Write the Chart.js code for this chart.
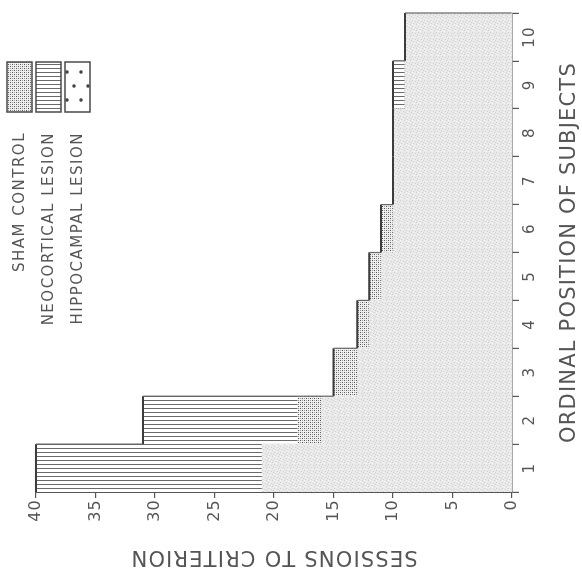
<!DOCTYPE html>
<html>
<head>
<meta charset="utf-8">
<title>Sessions to criterion</title>
<script src="https://cdn.jsdelivr.net/npm/chart.js@4.4.1/dist/chart.umd.min.js"></script>
<style>
  html, body { margin: 0; padding: 0; background: #fff; overflow: hidden; }
  /* the figure is printed turned a quarter turn, so the whole chart is rotated */
  #wrap {
    position: absolute; left: 0; top: 0;
    width: 569px; height: 582px;
    transform-origin: 0 0;
    transform: translate(0, 569px) rotate(-90deg);
  }
</style>
</head>
<body>
<div id="wrap"><canvas id="sessionsChart" width="569" height="582"></canvas></div>
<script>
// --- data ---
const positions = ['1', '2', '3', '4', '5', '6', '7', '8', '9', '10'];
const shamControl = [20, 18, 15, 13, 12, 11, 10, 10, 9, 9];
const neocorticalLesion = [40, 31, 12, 11, 10, 10, 9, 9, 10, 8];
const hippocampalLesion = [21, 16, 13, 12, 11, 10, 10, 10, 9, 9];
const groupLabels = ['SHAM CONTROL', 'NEOCORTICAL LESION', 'HIPPOCAMPAL LESION'];

const FONT = '"DejaVu Sans", sans-serif';
const INK = '#555';

const canvas = document.getElementById('sessionsChart');
const ctx = canvas.getContext('2d');

// small tiles used as fills
function tile(w, h, paint) {
    const c = document.createElement('canvas');
    c.width = w; c.height = h;
    paint(c.getContext('2d'));
    return ctx.createPattern(c, 'repeat');
}

const linesFill = tile(4, 4, g => {
    g.fillStyle = '#fff'; g.fillRect(0, 0, 4, 4);
    g.fillStyle = '#6a6a6a'; g.fillRect(0, 0, 1, 4);
});
const stippleFill = tile(4, 4, g => {
    g.fillStyle = '#f0f0f0'; g.fillRect(0, 0, 4, 4);
    g.fillStyle = '#555'; g.fillRect(0, 0, 1, 1); g.fillRect(2, 2, 1, 1);
    g.fillStyle = '#9a9a9a'; g.fillRect(2, 0, 1, 1); g.fillRect(0, 2, 1, 1);
});
const greyFill = tile(6, 6, g => {
    g.fillStyle = '#e9e9e9'; g.fillRect(0, 0, 6, 6);
    g.fillStyle = '#d0d0d0';
    [[1, 1], [4, 2], [2, 4], [5, 5], [0, 3]].forEach(p => g.fillRect(p[0], p[1], 1, 1));
    g.fillStyle = '#f5f5f5';
    [[3, 0], [0, 5], [4, 4]].forEach(p => g.fillRect(p[0], p[1], 1, 1));
});
const sparseDotsFill = tile(28, 14, g => {
    g.fillStyle = '#fff'; g.fillRect(0, 0, 28, 14);
    g.fillStyle = '#444';
    g.beginPath(); g.arc(7, 4, 1.8, 0, Math.PI * 2); g.fill();
    g.beginPath(); g.arc(21, 11, 1.8, 0, Math.PI * 2); g.fill();
});
const legendFills = [stippleFill, linesFill, sparseDotsFill];

// outline of the tallest bar in every position (top edge + the steps)
const stepOutline = {
    id: 'stepOutline',
    afterDatasetsDraw(chart) {
        const sets = chart.data.datasets;
        const tops = positions.map((p, i) => {
            let k = 0;
            sets.forEach((d, j) => { if (d.data[i] > sets[k].data[i]) k = j; });
            const bar = chart.getDatasetMeta(k).data[i];
            return { l: bar.x - bar.width / 2, r: bar.x + bar.width / 2, y: bar.y, base: bar.base };
        });
        const c = chart.ctx;
        c.save();
        c.strokeStyle = '#3c3c3c';
        c.lineWidth = 2;
        tops.forEach(t => {
            c.beginPath(); c.moveTo(t.l, t.y); c.lineTo(t.r, t.y); c.stroke();
        });
        c.lineWidth = 1.2;
        c.strokeStyle = '#666';
        for (let i = 0; i < tops.length - 1; i++) {
            c.beginPath(); c.moveTo(tops[i].r, tops[i].y); c.lineTo(tops[i].r, tops[i + 1].y); c.stroke();
        }
        const last = tops[tops.length - 1];
        c.beginPath(); c.moveTo(last.r, last.base); c.lineTo(last.r, last.y); c.stroke();
        c.restore();
    }
};

// legend: label on the left, swatch on the right, one row per group
const boxLegend = {
    id: 'boxLegend',
    afterDraw(chart) {
        const c = chart.ctx;
        c.save();
        c.letterSpacing = '1.5px';
        c.font = '15px ' + FONT;
        c.textAlign = 'right';
        c.textBaseline = 'middle';
        groupLabels.forEach((label, i) => {
            const top = 7 + i * 29;
            c.fillStyle = legendFills[i];
            c.fillRect(457, top, 50, 25);
            c.strokeStyle = '#4a4a4a';
            c.lineWidth = 1.5;
            c.strokeRect(457, top, 50, 25);
            c.fillStyle = INK;
            c.fillText(label, 437, top + 13);
        });
        c.restore();
    }
};

// spaced capitals for the axis lettering
const spacedText = {
    id: 'spacedText',
    beforeDraw(chart) { chart.ctx.letterSpacing = '1.2px'; },
    afterDraw(chart) { chart.ctx.letterSpacing = '0px'; }
};

new Chart(ctx, {
    type: 'bar',
    data: {
        labels: positions,
        datasets: [
            { label: groupLabels[0], data: shamControl, backgroundColor: stippleFill, order: 1 },
            { label: groupLabels[1], data: neocorticalLesion, backgroundColor: linesFill, order: 2 },
            { label: groupLabels[2], data: hippocampalLesion, backgroundColor: greyFill, order: 0 }
        ]
    },
    options: {
        responsive: false,
        animation: false,
        datasets: {
            bar: { grouped: false, barPercentage: 1, categoryPercentage: 1, borderWidth: 0 }
        },
        layout: { padding: { top: 36, right: 13, left: 0, bottom: 0 } },
        plugins: {
            legend: { display: false },
            tooltip: { enabled: false }
        },
        scales: {
            x: {
                grid: { drawOnChartArea: false, tickLength: 7, color: INK, lineWidth: 1.2 },
                border: { display: true, color: INK, width: 1.5 },
                ticks: { color: INK, padding: 2, maxRotation: 0, font: { family: FONT, size: 15 } },
                title: {
                    display: true,
                    text: 'ORDINAL POSITION OF SUBJECTS',
                    color: INK,
                    padding: { top: 0, bottom: 0 },
                    font: { family: FONT, size: 21 }
                },
                afterFit: s => { s.height = 70; }
            },
            y: {
                min: 0,
                max: 40,
                grid: { drawOnChartArea: false, tickLength: 6, color: INK, lineWidth: 1.2 },
                border: { display: true, color: INK, width: 1.5 },
                ticks: { stepSize: 5, color: INK, padding: 1, font: { family: FONT, size: 16 } },
                title: {
                    display: true,
                    text: 'SESSIONS TO CRITERION',
                    color: INK,
                    padding: { top: 0, bottom: 0 },
                    font: { family: FONT, size: 21 }
                },
                afterFit: s => { s.width = 77; }
            }
        }
    },
    plugins: [spacedText, stepOutline, boxLegend]
});
</script>
</body>
</html>
